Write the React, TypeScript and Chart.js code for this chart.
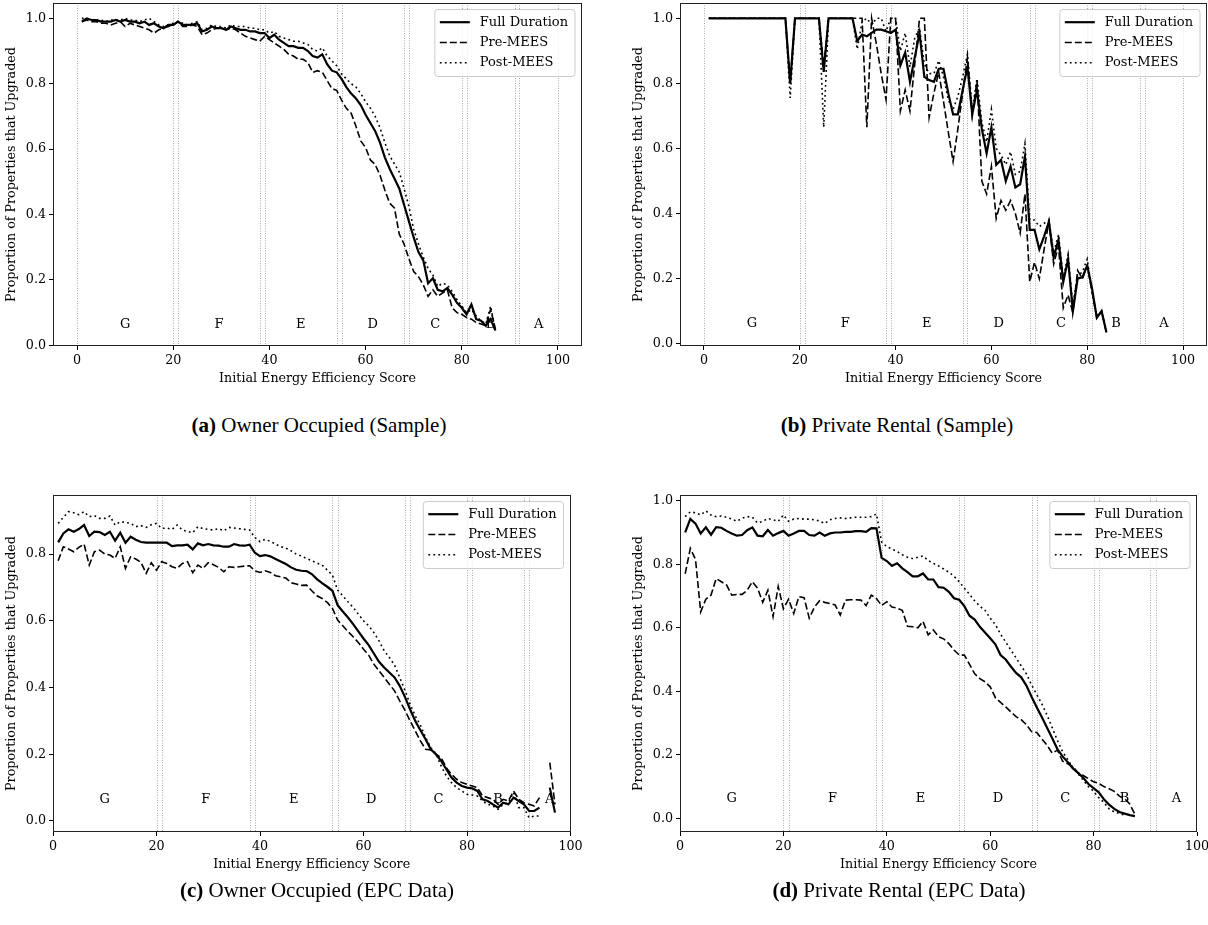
import React, { useEffect, useRef } from "react";
import { Chart, registerables } from "chart.js";
Chart.register(...registerables);

const SERIF = "'DejaVu Serif', serif";
const CAPTION_FONT = "'Liberation Serif', 'DejaVu Serif', serif";

const seriesLabels = ["Full Duration", "Pre-MEES", "Post-MEES"];
const bandEdges = [0, 20, 21, 38, 39, 54, 55, 68, 69, 80, 81, 91, 92, 100];
const bandLetters = ["G", "F", "E", "D", "C", "B", "A"];
const bandLetterX = [10, 29.5, 46.5, 61.5, 74.5, 86, 96];
const xTicks = [0, 20, 40, 60, 80, 100];
const yTicksFull = [0, 0.2, 0.4, 0.6, 0.8, 1.0];
const yTicksC = [0, 0.2, 0.4, 0.6, 0.8];

const scoreRange = (first: number, last: number) =>
  Array.from({ length: last - first + 1 }, (_, i) => first + i);

// (a) Owner Occupied (Sample)
const scoresA = scoreRange(1, 87);
const aFull = [0.99,1.0,0.995,0.995,0.99,0.99,0.99,0.995,0.99,0.995,
 0.99,0.99,0.985,0.99,0.98,0.985,0.975,0.97,0.98,0.98,
 0.99,0.98,0.98,0.98,0.985,0.96,0.965,0.975,0.97,0.97,
 0.965,0.975,0.97,0.965,0.965,0.96,0.96,0.955,0.955,0.94,
 0.95,0.935,0.925,0.915,0.915,0.91,0.91,0.9,0.885,0.88,
 0.89,0.86,0.84,0.835,0.815,0.79,0.77,0.755,0.735,0.705,
 0.68,0.655,0.62,0.575,0.54,0.51,0.48,0.43,0.38,0.33,
 0.285,0.26,0.19,0.205,0.17,0.165,0.175,0.155,0.13,0.115,
 0.095,0.125,0.08,0.075,0.06,0.08,0.045];
const aPre = [0.99,0.995,0.99,0.99,0.985,0.985,0.98,0.985,0.99,0.975,
 0.985,0.98,0.975,0.97,0.965,0.955,0.965,0.97,0.975,0.98,
 0.99,0.975,0.975,0.98,0.975,0.95,0.955,0.965,0.97,0.97,
 0.965,0.97,0.965,0.955,0.945,0.94,0.935,0.93,0.945,0.935,
 0.925,0.915,0.905,0.89,0.885,0.875,0.875,0.865,0.835,0.84,
 0.835,0.81,0.785,0.78,0.75,0.725,0.71,0.67,0.625,0.605,
 0.567,0.553,0.52,0.475,0.435,0.42,0.34,0.31,0.265,0.226,
 0.21,0.185,0.15,0.17,0.15,0.16,0.17,0.115,0.1,0.095,
 0.085,0.08,0.07,0.065,0.06,0.11,0.05];
const aPost = [1.0,1.0,0.995,0.995,0.995,0.99,0.995,0.995,0.995,1.0,
 0.995,0.995,0.99,0.995,1.0,0.99,0.98,0.975,0.98,0.985,
 0.99,0.985,0.98,0.985,0.99,0.965,0.97,0.98,0.975,0.975,
 0.97,0.98,0.975,0.975,0.975,0.97,0.97,0.965,0.965,0.955,
 0.96,0.945,0.94,0.935,0.93,0.93,0.925,0.92,0.905,0.9,
 0.91,0.885,0.87,0.855,0.83,0.815,0.8,0.79,0.77,0.745,
 0.725,0.7,0.665,0.62,0.58,0.555,0.53,0.48,0.425,0.355,
 0.31,0.27,0.235,0.215,0.18,0.19,0.185,0.165,0.14,0.12,
 0.1,0.11,0.09,0.075,0.065,0.12,0.045];

// (b) Private Rental (Sample)
const scoresB = scoreRange(1, 84);
const bFull = [1,1,1,1,1,1,1,1,1,1, 1,1,1,1,1,1,1,0.8,1,1,
 1,1,1,1,0.835,1,1,1,1,1, 1,0.93,0.95,0.945,0.955,0.965,0.965,0.96,0.955,0.965,
 0.855,0.895,0.805,0.88,0.955,0.82,0.81,0.805,0.845,0.845,
 0.77,0.705,0.705,0.78,0.85,0.705,0.78,0.66,0.585,0.665,
 0.55,0.565,0.5,0.545,0.48,0.49,0.575,0.35,0.35,0.29,
 0.33,0.375,0.265,0.32,0.19,0.26,0.1,0.2,0.205,0.24,
 0.17,0.08,0.1,0.035];
const bPre = [1,1,1,1,1,1,1,1,1,1, 1,1,1,1,1,1,1,0.8,1,1,
 1,1,1,1,0.85,1,1,1,1,1, 1,1,1,0.665,1,0.92,0.83,0.75,1,1,
 0.715,0.78,0.715,0.86,1,1,0.695,0.77,0.835,0.745,
 0.65,0.56,0.66,0.77,0.88,0.7,0.81,0.5,0.46,0.545,
 0.385,0.44,0.41,0.44,0.4,0.34,0.46,0.19,0.25,0.2,
 0.29,0.375,0.245,0.3,0.11,0.15,0.095,0.225,0.2,0.24,
 0.16,0.08,0.1,0.035];
const bPost = [1,1,1,1,1,1,1,1,1,1, 1,1,1,1,1,1,1,0.755,1,1,
 1,1,1,1,0.665,1,1,1,1,1, 1,0.905,0.99,1,0.98,1,1,0.96,1,1,
 0.9,0.955,0.85,0.94,0.97,0.86,0.83,0.83,0.87,0.82,
 0.75,0.72,0.76,0.82,0.89,0.72,0.815,0.68,0.62,0.72,
 0.6,0.58,0.55,0.59,0.52,0.53,0.615,0.38,0.38,0.36,
 0.37,0.38,0.28,0.335,0.2,0.275,0.12,0.21,0.22,0.26,
 0.16,0.085,0.1,0.04];

// (c) Owner Occupied (EPC Data)
const scoresC = scoreRange(1, 97);
const cFull = [0.835,0.862,0.874,0.867,0.875,0.887,0.854,0.867,0.866,0.857,
 0.867,0.84,0.864,0.834,0.852,0.843,0.836,0.834,0.834,0.834,
 0.834,0.834,0.824,0.826,0.826,0.828,0.814,0.832,0.826,0.83,
 0.826,0.825,0.822,0.822,0.83,0.826,0.825,0.828,0.804,0.794,
 0.797,0.793,0.785,0.778,0.77,0.76,0.753,0.75,0.749,0.74,
 0.725,0.713,0.702,0.69,0.647,0.628,0.61,0.59,0.568,0.547,
 0.527,0.502,0.477,0.46,0.445,0.43,0.405,0.372,0.335,0.3,
 0.272,0.245,0.215,0.2,0.18,0.155,0.13,0.115,0.105,0.1,
 0.098,0.09,0.065,0.06,0.05,0.04,0.055,0.05,0.07,0.06,
 0.05,0.03,0.03,0.04,null,0.1,0.025];
const cPre = [0.78,0.822,0.815,0.807,0.82,0.83,0.767,0.807,0.812,0.8,
 0.797,0.787,0.822,0.757,0.792,0.785,0.775,0.742,0.774,0.752,
 0.777,0.772,0.762,0.757,0.772,0.777,0.744,0.767,0.757,0.774,
 0.768,0.76,0.747,0.762,0.76,0.762,0.764,0.765,0.75,0.745,
 0.75,0.745,0.735,0.732,0.728,0.714,0.71,0.706,0.707,0.69,
 0.675,0.667,0.655,0.637,0.602,0.585,0.568,0.552,0.535,0.515,
 0.497,0.47,0.45,0.43,0.41,0.39,0.36,0.332,0.3,0.27,
 0.24,0.215,0.213,0.2,0.19,0.16,0.14,0.125,0.115,0.11,
 0.105,0.1,0.075,0.07,0.065,0.05,0.065,0.06,0.09,0.065,
 0.055,0.05,0.045,0.07,null,0.175,0.05];
const cPost = [0.892,0.91,0.927,0.924,0.918,0.927,0.912,0.915,0.907,0.907,
 0.914,0.887,0.897,0.895,0.892,0.882,0.885,0.88,0.888,0.892,
 0.877,0.878,0.874,0.887,0.872,0.868,0.864,0.882,0.876,0.874,
 0.872,0.876,0.87,0.88,0.878,0.876,0.874,0.872,0.85,0.837,
 0.844,0.838,0.83,0.822,0.818,0.81,0.8,0.794,0.787,0.78,
 0.773,0.767,0.752,0.737,0.692,0.675,0.657,0.64,0.62,0.6,
 0.585,0.565,0.54,0.51,0.49,0.467,0.43,0.392,0.35,0.315,
 0.287,0.25,0.22,0.202,0.165,0.135,0.115,0.1,0.09,0.08,
 0.078,0.075,0.06,0.05,0.045,0.035,0.05,0.055,0.085,0.04,
 0.04,0.01,0.015,0.015,null,null,null];

// (d) Private Rental (EPC Data)
const scoresD = scoreRange(1, 88);
const dFull = [0.9,0.943,0.928,0.897,0.916,0.893,0.917,0.915,0.905,0.897,
 0.89,0.892,0.907,0.916,0.89,0.888,0.908,0.89,0.898,0.905,
 0.89,0.897,0.905,0.905,0.892,0.89,0.9,0.89,0.897,0.9,
 0.9,0.902,0.902,0.904,0.904,0.902,0.914,0.913,0.82,0.81,
 0.795,0.803,0.787,0.775,0.762,0.762,0.771,0.752,0.752,0.728,
 0.726,0.713,0.693,0.688,0.668,0.638,0.626,0.603,0.585,0.567,
 0.548,0.514,0.5,0.478,0.458,0.444,0.418,0.383,0.35,0.318,
 0.285,0.252,0.218,0.195,0.177,0.157,0.143,0.128,0.108,0.095,
 0.082,0.06,0.043,0.03,0.02,0.015,0.01,0.007];
const dPre = [0.77,0.85,0.815,0.65,0.69,0.703,0.755,0.745,0.735,0.703,
 0.705,0.705,0.718,0.745,0.725,0.68,0.718,0.635,0.73,0.66,
 0.69,0.645,0.698,0.695,0.63,0.665,0.685,0.68,0.676,0.672,
 0.64,0.687,0.688,0.688,0.687,0.67,0.703,0.692,0.67,0.682,
 0.665,0.662,0.655,0.605,0.603,0.6,0.62,0.578,0.593,0.572,
 0.565,0.55,0.53,0.514,0.514,0.485,0.455,0.44,0.43,0.414,
 0.38,0.365,0.351,0.335,0.32,0.311,0.295,0.273,0.27,0.25,
 0.23,0.205,0.215,0.18,0.172,0.163,0.143,0.135,0.125,0.115,
 0.11,0.1,0.093,0.085,0.07,0.062,0.045,0.012];
const scoresDPost = scoreRange(1, 86);
const dPost = [0.95,0.965,0.962,0.955,0.968,0.955,0.95,0.952,0.948,0.942,
 0.935,0.945,0.95,0.948,0.93,0.935,0.944,0.94,0.935,0.955,
 0.935,0.942,0.944,0.942,0.942,0.94,0.936,0.928,0.94,0.944,
 0.946,0.944,0.946,0.948,0.948,0.948,0.95,0.958,0.87,0.855,
 0.848,0.84,0.83,0.822,0.818,0.822,0.826,0.812,0.803,0.795,
 0.785,0.775,0.762,0.745,0.725,0.705,0.685,0.668,0.655,0.63,
 0.61,0.58,0.555,0.53,0.505,0.48,0.455,0.42,0.39,0.36,
 0.325,0.285,0.245,0.21,0.185,0.16,0.14,0.12,0.1,0.085,
 0.065,0.05,0.03,0.02,0.015,0.01];

type Panel = {
  key: string;
  area: { left: number; top: number; right: number; bottom: number };
  padRight: number;
  xMin: number; xMax: number; yMin: number; yMax: number;
  yTicks: number[];
  series: { xs: number[]; ys: (number | null)[] }[];
  captionTag: string; captionText: string; captionX: number; captionY: number;
};

const panels: Panel[] = [
  { key: "a", area: { left: 53, top: 3, right: 582, bottom: 346 }, padRight: 4, xMin: -5, xMax: 105, yMin: -0.002, yMax: 1.047, yTicks: yTicksFull,
    series: [{ xs: scoresA, ys: aFull }, { xs: scoresA, ys: aPre }, { xs: scoresA, ys: aPost }],
    captionTag: "(a)", captionText: "Owner Occupied (Sample)", captionX: 319, captionY: 425 },
  { key: "b", area: { left: 680, top: 3, right: 1207, bottom: 346 }, padRight: 1, xMin: -5, xMax: 105, yMin: -0.007, yMax: 1.047, yTicks: yTicksFull,
    series: [{ xs: scoresB, ys: bFull }, { xs: scoresB, ys: bPre }, { xs: scoresB, ys: bPost }],
    captionTag: "(b)", captionText: "Private Rental (Sample)", captionX: 897, captionY: 425 },
  { key: "c", area: { left: 52.5, top: 495, right: 570, bottom: 832 }, padRight: 22, xMin: 0, xMax: 100, yMin: -0.033, yMax: 0.977, yTicks: yTicksC,
    series: [{ xs: scoresC, ys: cFull }, { xs: scoresC, ys: cPre }, { xs: scoresC, ys: cPost }],
    captionTag: "(c)", captionText: "Owner Occupied (EPC Data)", captionX: 317, captionY: 890 },
  { key: "d", area: { left: 680, top: 495, right: 1197, bottom: 832 }, padRight: 11, xMin: 0, xMax: 100, yMin: -0.043, yMax: 1.018, yTicks: yTicksFull,
    series: [{ xs: scoresD, ys: dFull }, { xs: scoresD, ys: dPre }, { xs: scoresDPost, ys: dPost }],
    captionTag: "(d)", captionText: "Private Rental (EPC Data)", captionX: 899, captionY: 890 },
];

const Y_AXIS_W = 53;
const X_AXIS_H = 52;
const PAD_TOP = 3;

const lineStyles = [
  { borderWidth: 2.2, borderDash: [] as number[] },
  { borderWidth: 1.6, borderDash: [7, 3] },
  { borderWidth: 1.6, borderDash: [1.8, 3.2] },
];

const decorPlugin = {
  id: "decor",
  beforeDatasetsDraw(chart: any) {
    const { ctx, chartArea } = chart;
    const xs = chart.scales.x;
    ctx.save();
    ctx.beginPath();
    ctx.rect(chartArea.left, chartArea.top, chartArea.right - chartArea.left, chartArea.bottom - chartArea.top);
    ctx.clip();
    ctx.strokeStyle = "rgba(140,140,140,0.75)";
    ctx.lineWidth = 1;
    ctx.setLineDash([1, 1.5]);
    bandEdges.forEach((v) => {
      const px = Math.round(xs.getPixelForValue(v)) + 0.5;
      ctx.beginPath();
      ctx.moveTo(px, chartArea.top);
      ctx.lineTo(px, chartArea.bottom);
      ctx.stroke();
    });
    ctx.restore();
  },
  afterDatasetsDraw(chart: any) {
    const { ctx, chartArea } = chart;
    const xs = chart.scales.x;
    const ys = chart.scales.y;
    ctx.save();
    ctx.fillStyle = "#000";
    ctx.font = `13px ${SERIF}`;
    ctx.textAlign = "center";
    ctx.textBaseline = "middle";
    bandLetters.forEach((l, i) => {
      ctx.fillText(l, xs.getPixelForValue(bandLetterX[i]), ys.getPixelForValue(0.063));
    });
    ctx.setLineDash([]);
    ctx.strokeStyle = "#222";
    ctx.lineWidth = 1;
    const l = Math.round(chartArea.left) + 0.5;
    const t = Math.round(chartArea.top) + 0.5;
    const r = Math.round(chartArea.right) - 0.5;
    const b = Math.round(chartArea.bottom) - 0.5;
    ctx.strokeRect(l, t, r - l, b - t);
    const fs = 13;
    ctx.font = `${fs}px ${SERIF}`;
    const dsets = chart.data.datasets;
    const textW = Math.max(...dsets.map((d: any) => ctx.measureText(d.label).width));
    const handle = 30, padL = 5, gap = 10, padR = 7;
    const w = padL + handle + gap + textW + padR;
    const h = 67;
    const fr = chartArea.right - 7;
    const fl = fr - w;
    const ft = chartArea.top + 6.5;
    ctx.beginPath();
    const rad = 3;
    ctx.moveTo(fl + rad, ft);
    ctx.lineTo(fr - rad, ft);
    ctx.quadraticCurveTo(fr, ft, fr, ft + rad);
    ctx.lineTo(fr, ft + h - rad);
    ctx.quadraticCurveTo(fr, ft + h, fr - rad, ft + h);
    ctx.lineTo(fl + rad, ft + h);
    ctx.quadraticCurveTo(fl, ft + h, fl, ft + h - rad);
    ctx.lineTo(fl, ft + rad);
    ctx.quadraticCurveTo(fl, ft, fl + rad, ft);
    ctx.closePath();
    ctx.fillStyle = "rgba(255,255,255,0.8)";
    ctx.fill();
    ctx.strokeStyle = "#cccccc";
    ctx.lineWidth = 1;
    ctx.stroke();
    dsets.forEach((d: any, i: number) => {
      const cy = ft + 12.7 + i * 20.3;
      ctx.beginPath();
      ctx.setLineDash(d.borderDash || []);
      ctx.lineWidth = d.borderWidth;
      ctx.strokeStyle = "#000";
      ctx.moveTo(fl + padL, cy);
      ctx.lineTo(fl + padL + handle, cy);
      ctx.stroke();
      ctx.setLineDash([]);
      ctx.fillStyle = "#000";
      ctx.textAlign = "left";
      ctx.textBaseline = "middle";
      ctx.fillText(d.label, fl + padL + handle + gap, cy);
    });
    ctx.restore();
  },
};

function ChartPanel({ p }: { p: Panel }) {
  const ref = useRef<HTMLCanvasElement | null>(null);
  const canvasLeft = p.area.left - Y_AXIS_W;
  const canvasTop = p.area.top - PAD_TOP;
  const width = Math.round(p.area.right - p.area.left + Y_AXIS_W + p.padRight);
  const height = Math.round(p.area.bottom - p.area.top + PAD_TOP + X_AXIS_H);

  useEffect(() => {
    if (!ref.current) return;
    const tickFont = { family: SERIF, size: 12.7 };
    const chart = new Chart(ref.current, {
      type: "line",
      data: {
        datasets: p.series.map((s, i) => ({
          label: seriesLabels[i],
          data: s.xs.map((x, j) => ({ x, y: s.ys[j] ?? null })),
          borderColor: "#000",
          backgroundColor: "#000",
          borderWidth: lineStyles[i].borderWidth,
          borderDash: lineStyles[i].borderDash,
          pointRadius: 0,
          fill: false,
          tension: 0,
          spanGaps: false,
        })),
      },
      options: {
        animation: false,
        responsive: false,
        maintainAspectRatio: false,
        layout: { padding: { top: PAD_TOP, right: width - (p.area.right - canvasLeft), left: 0, bottom: 0 } },
        plugins: { legend: { display: false }, tooltip: { enabled: false } },
        scales: {
          x: {
            type: "linear",
            min: p.xMin,
            max: p.xMax,
            afterFit: (s: any) => { s.height = X_AXIS_H; s.paddingLeft = 0; s.paddingRight = 0; },
            afterBuildTicks: (s: any) => { s.ticks = xTicks.map((v) => ({ value: v })); },
            ticks: { font: tickFont, color: "#000", padding: 3, maxRotation: 0, autoSkip: false, callback: (v: any) => String(v) },
            grid: { drawOnChartArea: false, drawTicks: true, tickLength: 4, color: "#000" },
            border: { display: false },
            title: { display: true, text: "Initial Energy Efficiency Score", font: tickFont, color: "#000", padding: { top: 0, bottom: 11.4 } },
          },
          y: {
            type: "linear",
            min: p.yMin,
            max: p.yMax,
            afterFit: (s: any) => { s.width = Y_AXIS_W; s.paddingTop = 0; s.paddingBottom = 0; },
            afterBuildTicks: (s: any) => { s.ticks = p.yTicks.map((v) => ({ value: v })); },
            ticks: { font: tickFont, color: "#000", padding: 3, autoSkip: false, callback: (v: any) => Number(v).toFixed(1) },
            grid: { drawOnChartArea: false, drawTicks: true, tickLength: 4, color: "#000" },
            border: { display: false },
            title: { display: true, text: "Proportion of Properties that Upgraded", font: tickFont, color: "#000", padding: { top: 4, bottom: 0 } },
          },
        },
      } as any,
      plugins: [decorPlugin],
    });
    return () => chart.destroy();
  }, []);

  return (
    <canvas
      ref={ref}
      width={width}
      height={height}
      style={{ position: "absolute", left: canvasLeft, top: canvasTop, width, height }}
    />
  );
}

export default function App() {
  return (
    <div style={{ position: "fixed", left: 0, top: 0, width: 1208, height: 925, overflow: "hidden", background: "#fff" }}>
      {panels.map((p) => (
        <ChartPanel key={p.key} p={p} />
      ))}
      {panels.map((p) => (
        <div
          key={"cap" + p.key}
          style={{
            position: "absolute",
            left: p.captionX - 250,
            width: 500,
            top: p.captionY - 13,
            height: 26,
            lineHeight: "26px",
            textAlign: "center",
            fontFamily: CAPTION_FONT,
            fontSize: 21,
            color: "#000",
            whiteSpace: "nowrap",
          }}
        >
          <b>{p.captionTag}</b> {p.captionText}
        </div>
      ))}
    </div>
  );
}
